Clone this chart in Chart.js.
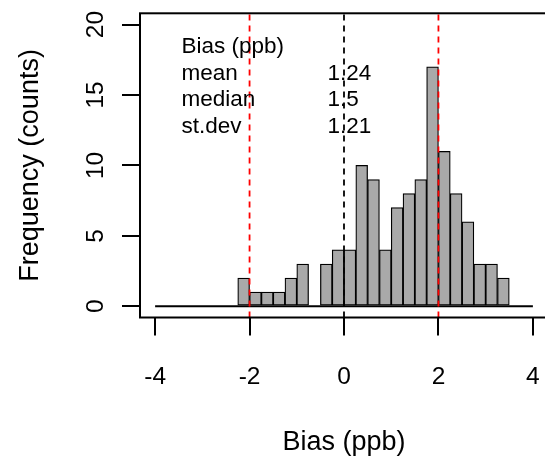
<!DOCTYPE html>
<html>
<head>
<meta charset="utf-8">
<script src="https://cdn.jsdelivr.net/npm/chart.js@4.4.1/dist/chart.umd.min.js"></script>
<style>
html,body{margin:0;padding:0;background:#fff;overflow:hidden;width:545px;height:459px}
canvas{display:block}
</style>
</head>
<body>
<canvas id="c" width="552" height="459"></canvas>
<script>
// ---- data ----
const binLeftEdges = [-4.00,-3.75,-3.50,-3.25,-3.00,-2.75,-2.50,-2.25,-2.00,-1.75,-1.50,-1.25,-1.00,-0.75,-0.50,-0.25,
                       0.00, 0.25, 0.50, 0.75, 1.00, 1.25, 1.50, 1.75, 2.00, 2.25, 2.50, 2.75, 3.00, 3.25, 3.50, 3.75];
const binWidth = 0.25;
const counts = [0,0,0,0,0,0,0,2,1,1,1,2,3,0,3,4,
                4,10,9,4,7,8,9,17,11,8,6,3,3,2,0,0];
const xTicks = [-4,-2,0,2,4];
const xTickLabels = ['-4','-2','0','2','4'];
const yTicks = [0,5,10,15,20];
const yTickLabels = ['0','5','10','15','20'];
const redLines = [-2, 2];
const blackLine = [0];
const statLabels = ['Bias (ppb)','mean','median','st.dev'];
const statValues = ['','1.24','1.5','1.21'];
const xTitle = 'Bias (ppb)';
const yTitle = 'Frequency (counts)';
const xRange = [-4.32, 4.32];
const yRange = [-0.8, 20.8];

// ---- build datasets ----
const barData = binLeftEdges.map((l,i)=>({x:l+binWidth/2, y:counts[i]}));
const vline = v => [{x:v,y:yRange[0]},{x:v,y:yRange[1]}];
const FONT = "'Liberation Sans', Arial, Helvetica, sans-serif";
Chart.defaults.font.family = FONT;
Chart.defaults.color = '#000';

const datasets = [];
redLines.forEach(v=>datasets.push({type:'line',data:vline(v),borderColor:'#ff0000',borderWidth:1.8,borderDash:[6,5],pointRadius:0,order:0}));
blackLine.forEach(v=>datasets.push({type:'line',data:vline(v),borderColor:'#000',borderWidth:1.8,borderDash:[6,5],pointRadius:0,order:0}));
datasets.push({type:'line',data:[{x:xTicks[0],y:0},{x:xTicks[xTicks.length-1],y:0}],borderColor:'#000',borderWidth:1.8,pointRadius:0,order:1});
datasets.push({type:'bar',data:barData,backgroundColor:'#a9a9a9',borderColor:'#000',borderWidth:1.25,borderSkipped:false,
  barPercentage:1,categoryPercentage:1,order:5});

const boxPlugin = {
  id:'box',
  afterDraw(chart){
    const {ctx, chartArea:a} = chart;
    ctx.save();
    ctx.strokeStyle='#000'; ctx.lineWidth=2;
    ctx.strokeRect(a.left, a.top, a.right-a.left, a.bottom-a.top);
    // statistics text block
    ctx.fillStyle='#000';
    ctx.font = "22.5px " + FONT;
    ctx.textBaseline='alphabetic';
    ctx.textAlign='left';
    const lx = a.left + 41.5, vx = a.left + 187.5;
    statLabels.forEach((t,i)=>{
      const y = a.top + 39.5 + i*26.8;
      ctx.fillText(t, lx, y);
      if (statValues[i]) ctx.fillText(statValues[i], vx, y);
    });
    ctx.restore();
  }
};

new Chart(document.getElementById('c'), {
  type:'bar',
  data:{datasets},
  plugins:[boxPlugin],
  options:{
    responsive:false, animation:false, devicePixelRatio:1,
    layout:{padding:{left:0,top:13.3,right:4,bottom:0}},
    plugins:{legend:{display:false}, tooltip:{enabled:false}},
    scales:{
      x:{type:'linear', min:xRange[0], max:xRange[1], offset:false,
        grid:{display:true, drawOnChartArea:false, drawTicks:true, tickLength:18, color:'#000', lineWidth:2, offset:false},
        border:{display:false},
        ticks:{font:{size:24.5}, color:'#000', padding:27.5, minRotation:0, maxRotation:0, autoSkip:false,
          callback:(v,i)=>xTickLabels[i]},
        title:{display:true, text:xTitle, font:{size:27}, color:'#000', padding:{top:0,bottom:0}},
        afterBuildTicks:s=>{s.ticks = xTicks.map(v=>({value:v}));},
        afterFit:s=>{s.height = 141.5; s.paddingLeft=0; s.paddingRight=0;}
      },
      y:{type:'linear', min:yRange[0], max:yRange[1],
        grid:{display:true, drawOnChartArea:false, drawTicks:true, tickLength:18, color:'#000', lineWidth:2},
        border:{display:false},
        ticks:{font:{size:24.5}, color:'#000', padding:12.2, minRotation:90, maxRotation:90, crossAlign:'center', autoSkip:false,
          callback:(v,i)=>yTickLabels[i]},
        title:{display:true, text:yTitle, font:{size:27}, color:'#000', padding:{top:14.6,bottom:0}},
        afterBuildTicks:s=>{s.ticks = yTicks.map(v=>({value:v}));},
        afterFit:s=>{s.width = 140; s.paddingTop=0; s.paddingBottom=0;}
      }
    }
  }
});
</script>
</body>
</html>
